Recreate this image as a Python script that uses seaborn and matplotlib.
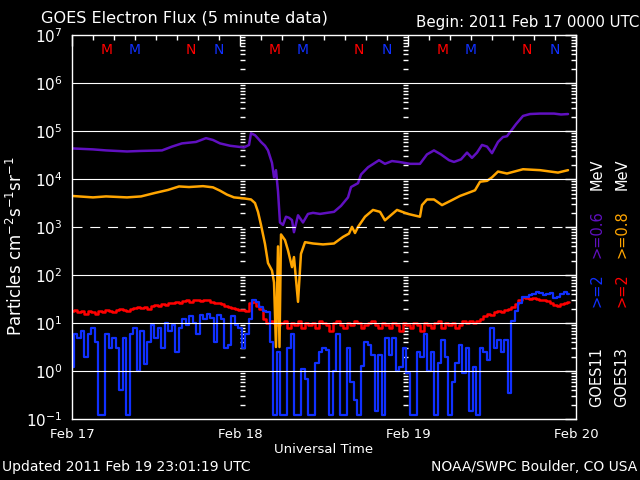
import numpy as np
import matplotlib
matplotlib.use("Agg")
import matplotlib.pyplot as plt
import seaborn as sns

sns.set_theme(style="dark")
plt.rcParams['font.family'] = ['DejaVu Sans']

# ---------------- data (hours since 2011 Feb 17 00:00 UT) ----------------
p06_hours = [0, 3.0, 4.86, 7.86, 9.86, 12.86, 14.29, 15.71, 17.71, 19.14,
             20.14, 21.14, 22.57, 23.57, 24.57, 25.29, 25.57, 26.14, 26.57, 27.0,
             27.57, 28.0, 28.57, 28.86, 29.14, 29.43, 29.71, 30.14, 30.57, 31.0,
             31.43, 31.71, 32.29, 33.0, 33.71, 34.43, 35.43, 36.43, 37.43, 38.43,
             39.43, 39.86, 40.86, 41.29, 42.29, 43.86, 44.71, 45.71, 46.71, 48.29,
             49.71, 50.71, 51.71, 52.71, 53.86, 54.57, 55.57, 56.43, 57.14, 57.86,
             58.57, 59.29, 60.0, 60.86, 61.57, 62.14, 63.43, 64.43, 65.43, 66.86,
             68.86, 69.86, 70.86]
p06_flux = [44000, 42000, 40000, 38000, 39000, 40000, 48000, 56000, 60000, 72000,
            66000, 56000, 50000, 48000, 46000, 52000, 91000, 83000, 71000, 60000,
            50000, 40000, 22000, 11000, 15500, 5600, 1260, 1120, 1660, 1580,
            1410, 790, 1780, 1260, 1900, 2000, 1900, 2000, 2100, 2800,
            4200, 6900, 8300, 12600, 17800, 25000, 21000, 24000, 23000, 21000,
            21000, 33000, 40000, 33000, 25000, 23000, 26000, 36000, 28000, 36000,
            52000, 48000, 35000, 60000, 76000, 79000, 141000, 209000, 229000, 234000,
            234000, 224000, 229000]

p08_hours = [0, 3.0, 4.86, 7.86, 9.86, 11.86, 13.71, 15.29, 16.71, 18.71,
             20.14, 21.14, 22.14, 23.14, 24.57, 25.57, 26.14, 26.57, 27.0, 27.57,
             28.0, 28.57, 28.86, 29.14, 29.43, 29.64, 29.86, 30.43, 30.86, 31.43,
             31.71, 32.29, 32.71, 33.29, 34.43, 35.86, 37.43, 38.71, 39.57, 40.0,
             40.43, 40.86, 41.86, 43.0, 44.0, 44.71, 46.43, 48.0, 49.71, 50.0,
             50.71, 51.71, 52.86, 54.14, 55.43, 56.43, 57.57, 58.29, 59.29, 60.0,
             60.86, 62.14, 64.43, 66.86, 69.43, 70.86]
p08_flux = [4500, 4200, 4400, 4200, 4400, 5200, 6000, 7100, 6900, 7200,
            6800, 5800, 4800, 4200, 4000, 3800, 3200, 2100, 1120, 450,
            180, 126, 71, 3.2, 400, 3.2, 710, 540, 330, 148,
            240, 28, 280, 490, 460, 440, 460, 630, 740, 1020,
            760, 1020, 1660, 2300, 2100, 1400, 2300, 1900, 1660, 2900,
            3800, 3800, 2900, 3600, 4500, 5100, 5900, 8900, 9300, 11000,
            14500, 13200, 16200, 15500, 13800, 15500]

# >=2 MeV, 30-minute samples
e2_goes13 = [18, 19, 17, 18, 16, 18, 17, 16, 18, 17,
             19, 18, 17, 19, 20, 19, 18, 20, 21, 22,
             21, 22, 20, 23, 24, 23, 25, 24, 26, 27,
             28, 27, 29, 30, 28, 31, 30, 29, 31, 30,
             28, 27, 26, 25, 23, 22, 21, 20,
             19, 19, 18, 27, 28, 23, 20, 12, 10, 11,
             10, 9, 10, 11, 8, 10, 9, 11, 8, 10,
             9, 10, 8, 11, 10, 9, 7, 10, 11, 9,
             8, 10, 9, 11, 10, 8, 9, 10, 11, 9,
             8, 10, 9, 8, 10, 9, 7, 10,
             9, 8, 10, 9, 7, 10, 9, 8, 10, 11,
             8, 10, 9, 10, 8, 9, 11, 10, 11, 10,
             11, 12, 14, 16, 15, 17, 18, 17, 19, 20,
             22, 25, 30, 35, 33, 32, 34, 32, 31, 30,
             29, 27, 24, 23, 25, 27, 28]
e2_goes11 = [1.2, 6, 5, 7, 2, 6, 8, 4, 0.12, 0.12,
             6, 3, 5, 3, 0.4, 5, 0.12, 6, 8, 1.0,
             7, 1.4, 4, 9, 5, 8, 3, 10, 7, 9,
             2.5, 8, 12, 9, 14, 10, 6, 15, 12, 16,
             13, 4, 15, 12, 3, 3.5, 14, 9,
             8, 3, 6, 12, 30, 28, 22, 18, 17, 4,
             0.12, 2.5, 0.12, 0.12, 3, 6, 0.12, 0.12, 1.1, 0.7,
             0.12, 0.12, 1.5, 2.5, 3, 2.8, 0.12, 1.0, 6, 0.12,
             0.12, 3, 0.6, 0.25, 0.12, 1.3, 4, 3.5, 2.2, 0.15,
             2.2, 0.12, 5, 2.2, 5, 1.0, 1.2, 3,
             0.9, 0.12, 0.12, 2.5, 2, 6, 1, 2.5, 0.12, 1.5,
             4.5, 2, 0.12, 0.6, 1.5, 3.5, 0.9, 3, 0.15, 1.2,
             0.12, 3, 2.5, 1.7, 8, 3, 4.5, 2.5, 4.5, 0.35,
             11, 18, 27, 35, 36, 38, 40, 45, 42, 38,
             40, 42, 33, 36, 40, 45, 40]
e2_hours = np.arange(len(e2_goes13)) * 0.5

day_labels = ['Feb 17', 'Feb 18', 'Feb 19', 'Feb 20']
mn_hours = [5, 9, 17, 21]          # M/N markers within each day
mn_text = ['M', 'M', 'N', 'N']
mn_color = ['#ff0000', '#1030ff', '#ff0000', '#1030ff']

c_purple = '#6010c0'
c_orange = '#ffa500'
c_red = '#ff0000'
c_blue = '#1030ff'

# ---------------- figure ----------------
fig = plt.figure(figsize=(6.4, 4.8), dpi=100, facecolor='black')
ax = fig.add_axes([72/640, 1 - 419.3/480, 504/640, 384/480])
ax.set_facecolor('black')
ax.set_yscale('log')
ax.set_xlim(0, 72)
ax.set_ylim(0.1, 1e7)

sns.lineplot(x=e2_hours, y=e2_goes13, ax=ax, color=c_red, lw=1.8,
             drawstyle='steps-mid', estimator=None, zorder=2)
sns.lineplot(x=e2_hours, y=e2_goes11, ax=ax, color=c_blue, lw=1.6,
             drawstyle='steps-mid', estimator=None, zorder=2.1)
sns.lineplot(x=p06_hours, y=p06_flux, ax=ax, color=c_purple, lw=1.8,
             estimator=None, zorder=2.2)
sns.lineplot(x=p08_hours, y=p08_flux, ax=ax, color=c_orange, lw=1.8,
             estimator=None, zorder=2.3)

# decade reference lines
for k in range(0, 7):
    if k == 3:
        ax.axhline(10.0**k, color='white', lw=0.8, dashes=(9, 7), zorder=3)
    else:
        ax.axhline(10.0**k, color='white', lw=0.8, zorder=3)

# axes styling
for s in ax.spines.values():
    s.set_color('white')
    s.set_linewidth(1.0)
ax.set_xticks([0, 24, 48, 72])
ax.set_xticklabels(day_labels)
ax.set_xticks(np.arange(0, 73, 3), minor=True)
ax.yaxis.set_major_locator(matplotlib.ticker.LogLocator(base=10, numticks=20))
ax.yaxis.set_minor_locator(matplotlib.ticker.LogLocator(base=10, subs=np.arange(2, 10), numticks=20))
ax.tick_params(which='both', direction='in', colors='white', top=True, right=True,
               labelcolor='white')
ax.tick_params(which='major', length=8, width=1)
ax.tick_params(which='minor', length=3.5, width=1)
ax.tick_params(axis='x', which='major', labelsize=9.5, pad=6)
ax.tick_params(axis='y', which='major', labelsize=11, pad=7)
ax.grid(False)
ax.set_xlabel('Universal Time', color='white', fontsize=9.5, labelpad=2)
ax.set_ylabel('Particles cm$^{-2}$s$^{-1}$sr$^{-1}$', color='white', fontsize=12)
ax.yaxis.set_label_coords(-0.092, 0.45)

# day-boundary tick columns
for dpos in (24/72, 48/72):
    sec = ax.secondary_yaxis(dpos)
    for s in sec.spines.values():
        s.set_visible(False)
    sec.tick_params(which='both', direction='in', colors='white', labelleft=False,
                    labelright=False)
    sec.tick_params(which='major', length=0, width=1)
    sec.tick_params(which='minor', length=3.5, width=1)

# M / N markers
trans = matplotlib.transforms.blended_transform_factory(ax.transData, ax.transAxes)
for day in range(3):
    for h, t, c in zip(mn_hours, mn_text, mn_color):
        ax.text(24*day + h, 1 - 15/384, t, color=c, fontsize=10, ha='center',
                va='center', transform=trans)

# titles and footers
fig.text(41/640, 1 - 18/480, 'GOES Electron Flux (5 minute data)', color='white',
         fontsize=11.6, ha='left', va='center')
fig.text(639/640, 1 - 23/480, 'Begin: 2011 Feb 17 0000 UTC', color='white',
         fontsize=10.8, ha='right', va='center')
fig.text(2/640, 1 - 467/480, 'Updated 2011 Feb 19 23:01:19 UTC', color='white',
         fontsize=10, ha='left', va='center')
fig.text(637/640, 1 - 467/480, 'NOAA/SWPC Boulder, CO USA', color='white',
         fontsize=10, ha='right', va='center')

# right-side legend (rotated)
def vtext(x, ybottom, s, c):
    fig.text(x/640, 1 - ybottom/480, s, color=c, fontsize=10.5, rotation=90,
             ha='center', va='bottom')

vtext(597, 407, 'GOES11', 'white')
vtext(597, 307, '>=2', c_blue)
vtext(597, 258, '>=0.6', c_purple)
vtext(597, 190, 'MeV', 'white')
vtext(622, 407, 'GOES13', 'white')
vtext(622, 307, '>=2', c_red)
vtext(622, 258, '>=0.8', c_orange)
vtext(622, 190, 'MeV', 'white')

fig.savefig('out.png', dpi=100, facecolor='black')
